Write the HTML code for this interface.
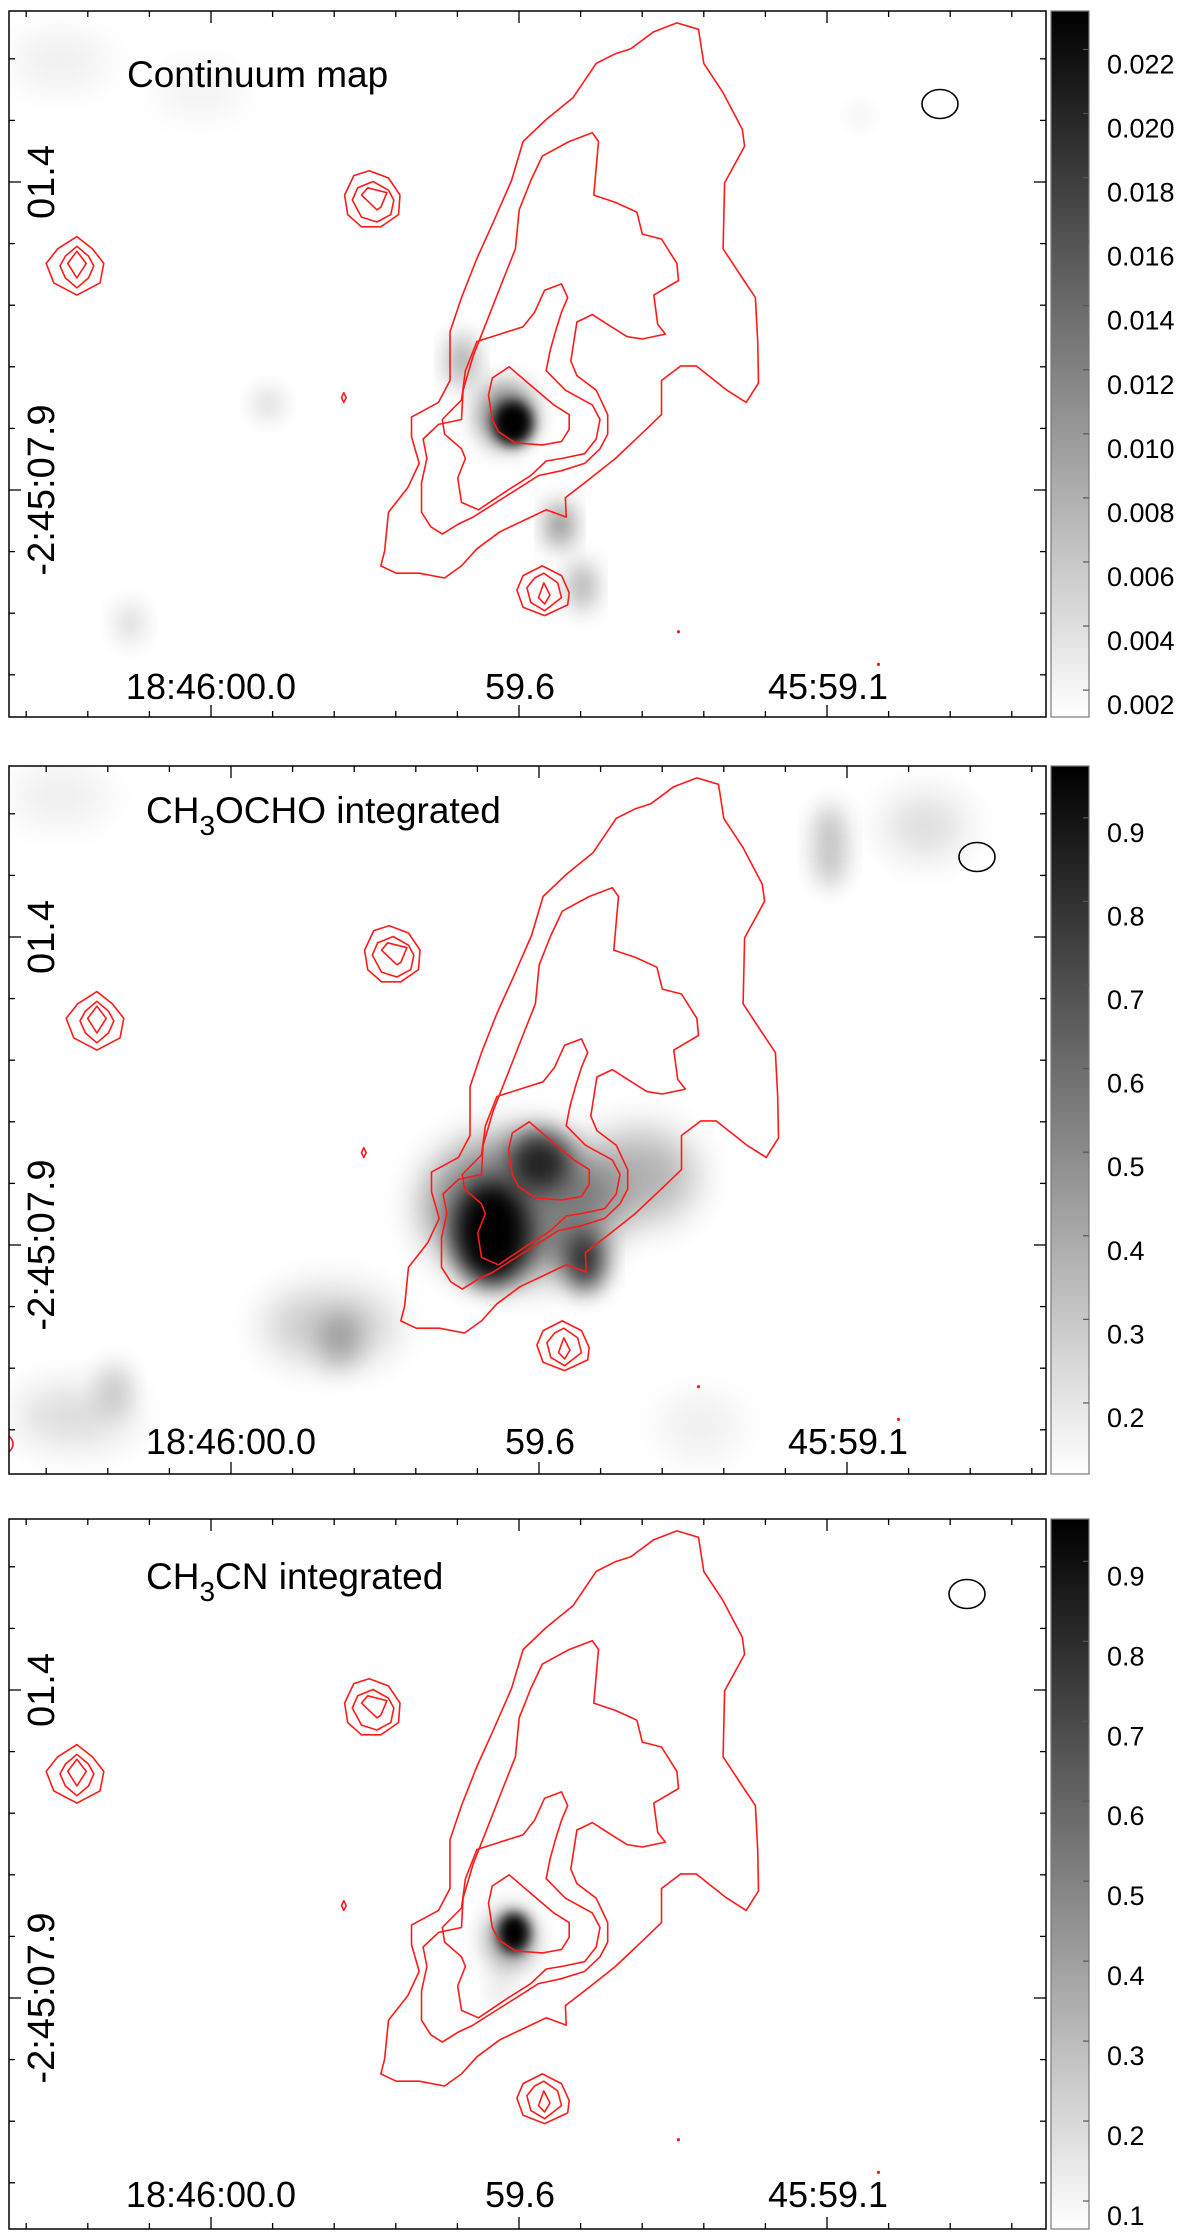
<!DOCTYPE html>
<html><head><meta charset="utf-8">
<style>
html,body{margin:0;padding:0;background:#fff;}
svg{display:block;font-family:"Liberation Sans",sans-serif;}
</style></head>
<body>
<svg id="fig" width="1200" height="2235" viewBox="0 0 1200 2235" xmlns="http://www.w3.org/2000/svg">
<defs>
<filter id="b6" x="-50%" y="-50%" width="200%" height="200%"><feGaussianBlur stdDeviation="6"/></filter>
<filter id="b12" x="-50%" y="-50%" width="200%" height="200%"><feGaussianBlur stdDeviation="12"/></filter>
<filter id="b20" x="-50%" y="-50%" width="200%" height="200%"><feGaussianBlur stdDeviation="20"/></filter>
<linearGradient id="cbg" x1="0" y1="1" x2="0" y2="0">
<stop offset="0" stop-color="#fff"/><stop offset="1" stop-color="#000"/>
</linearGradient>
<clipPath id="c1"><rect x="9" y="11" width="1037" height="706"/></clipPath>
<clipPath id="c2"><rect x="9" y="766" width="1037" height="708"/></clipPath>
<clipPath id="c3"><rect x="9" y="1519" width="1037" height="710"/></clipPath>
</defs>
</svg>
<script>
// ---- data ----
const panelTops = [11, 766, 1519];
const panelBottoms = [717, 1474, 2229];
const panelTitles = [["Continuum map"], ["CH","3","OCHO integrated"], ["CH","3","CN integrated"]];
const xTickLabels = ["18:46:00.0", "59.6", "45:59.1"];
const yTickLabels = ["01.4", "-2:45:07.9"];
const cb1Values = [0.022,0.020,0.018,0.016,0.014,0.012,0.010,0.008,0.006,0.004,0.002];
const cb1Labels = ["0.022","0.020","0.018","0.016","0.014","0.012","0.010","0.008","0.006","0.004","0.002"];
const cb1Range = [0.00116, 0.0232];
const cb2Values = [0.9,0.8,0.7,0.6,0.5,0.4,0.3,0.2];
const cb2Labels = ["0.9","0.8","0.7","0.6","0.5","0.4","0.3","0.2"];
const cb2Range = [0.115, 0.962];
const cb3Values = [0.9,0.8,0.7,0.6,0.5,0.4,0.3,0.2,0.1];
const cb3Labels = ["0.9","0.8","0.7","0.6","0.5","0.4","0.3","0.2","0.1"];
const cb3Range = [0.065, 0.953];

const NS = "http://www.w3.org/2000/svg";
const svg = document.getElementById("fig");
function mk(tag, attrs, parent){
  const e = document.createElementNS(NS, tag);
  for (const k in attrs) e.setAttribute(k, attrs[k]);
  (parent||svg).appendChild(e);
  return e;
}
const X0 = 9, X1 = 1046;

const C = [
 [[880,47],[908,60],[915,130],[940,190],[965,265],[968,300],[942,375],[940,510],[965,570],[982,610],[985,700],[986,785],[970,825],[945,800],[905,750],[885,750],[860,780],[860,850],[840,880],[800,940],[760,990],[735,1020],[736,1060],[710,1045],[690,1060],[650,1090],[620,1125],[600,1160],[578,1185],[545,1175],[515,1175],[495,1160],[500,1130],[505,1050],[530,1000],[545,950],[535,895],[535,855],[570,825],[585,780],[585,680],[600,610],[620,530],[640,460],[665,370],[680,290],[710,245],[745,200],[775,130],[800,110],[820,100],[850,65]],
 [[770,272],[778,290],[772,400],[800,415],[828,435],[835,480],[860,490],[880,540],[882,575],[850,605],[855,665],[865,685],[835,695],[815,690],[790,665],[770,645],[750,660],[742,740],[750,770],[775,800],[790,850],[790,890],[780,920],[760,950],[730,965],[700,975],[680,995],[650,1025],[615,1060],[595,1075],[575,1095],[560,1080],[548,1050],[548,990],[555,940],[550,900],[570,870],[600,860],[602,800],[615,730],[635,650],[655,570],[670,510],[675,430],[690,370],[705,320],[740,290]],
 [[730,582],[738,610],[730,640],[722,680],[715,720],[710,760],[735,800],[770,830],[780,860],[775,900],[760,930],[730,940],[710,945],[690,975],[660,1005],[622,1045],[600,1030],[595,980],[605,940],[600,920],[578,890],[575,860],[600,820],[605,760],[620,700],[650,685],[680,670],[695,640],[708,595]],
 [[662,752],[690,790],[720,830],[740,850],[740,880],[730,905],[705,912],[670,908],[648,885],[640,860],[635,810],[640,775]],
 [[100,485],[120,510],[135,540],[130,580],[100,605],[70,580],[60,540],[75,510]],
 [[100,505],[115,525],[122,545],[115,570],[100,590],[85,570],[78,545],[85,525]],
 [[100,515],[112,540],[100,570],[88,540]],
 [[480,350],[505,365],[520,400],[518,440],[495,465],[470,465],[452,440],[448,400],[460,360]],
 [[485,372],[505,390],[512,410],[508,440],[490,455],[470,445],[458,410],[465,385]],
 [[478,385],[503,395],[495,425],[490,430],[470,400]],
 [[705,1160],[730,1180],[740,1215],[738,1240],[708,1262],[680,1245],[672,1210],[680,1180]],
 [[707,1175],[725,1195],[730,1225],[708,1252],[690,1235],[685,1205],[695,1185]],
 [[707,1195],[715,1220],[708,1238],[700,1225]],
 [[447,805],[450,815],[447,825],[444,815]]
];
const dots = [[882,1295],[1142,1362]];

const blobs = [
 [[513,412,20,22,1,"b6"],[506,404,28,32,0.5,"b12"],[462,350,14,26,0.35,"b12"],[560,514,13,22,0.5,"b12"],[582,575,13,24,0.35,"b12"],[268,393,14,14,0.18,"b12"],[130,612,14,20,0.15,"b12"],[60,50,50,25,0.07,"b20"],[200,80,45,22,0.06,"b20"],[860,105,12,10,0.08,"b12"]],
 [[492,467,38,52,1,"b12"],[540,395,30,30,0.75,"b12"],[585,495,20,30,0.8,"b12"],[520,440,95,70,0.5,"b20"],[640,410,55,45,0.3,"b20"],[330,560,65,35,0.22,"b20"],[340,575,20,28,0.22,"b12"],[830,80,16,42,0.25,"b12"],[925,60,40,30,0.15,"b20"],[75,650,60,28,0.15,"b20"],[115,622,16,26,0.18,"b12"],[700,660,40,30,0.07,"b20"],[60,30,50,25,0.08,"b20"]],
 [[514,414,16,20,1,"b6"],[510,420,24,30,0.4,"b12"],[500,470,10,14,0.15,"b12"]]
];
const beams = [[940,93],[977,91],[967,75]];
const titleY = [76, 57, 70];
const contourDx = [0, 20, 0];

panelTops.forEach((top, p) => {
  const bot = panelBottoms[p];
  const dx = contourDx[p];
  const dy = top - 11;
  const g = mk("g", {"clip-path":"url(#c"+(p+1)+")"});
  
  
  const img = mk("g", {}, g);
  
  
  blobs[p].forEach(b => {
    const e = mk("ellipse", {cx:b[0], cy:b[1]+top, rx:b[2], ry:b[3], fill:"#000", opacity:b[4], filter:"url(#"+b[5]+")"}, img);
    
    
  });
  const cg = mk("g", {fill:"none", stroke:"#ff1a1a", "stroke-width":1.6, "stroke-linejoin":"round"}, g);
  
  
  C.forEach(c => {
    const pts = c.map(q => ((q[0]/1.3)+dx).toFixed(1)+","+((q[1]/2.05)+dy).toFixed(1)).join(" ");
    const e = mk("polygon", {points: pts}, cg);
    
    
  });
  dots.forEach(d => {
    const e = mk("circle", {cx:(d[0]/1.3)+dx, cy:(d[1]/2.05)+dy, r:1.6, fill:"#ff1a1a", stroke:"none"}, g);
    
    
  });
  if (p === 1) {
    const e = mk("path", {d:"M9,1436 q8,8 0,16", fill:"none", stroke:"#ff1a1a", "stroke-width":1.6}, g);
    
    
  }
  const bm = mk("ellipse", {cx:beams[p][0], cy:beams[p][1]+top, rx:18, ry:14.5, fill:"none", stroke:"#000", "stroke-width":1.6});
  
  
  const fr = mk("rect", {x:X0, y:top, width:X1-X0, height:bot-top, fill:"none", stroke:"#000", "stroke-width":1.5});
  
  
  const xMaj = [211+dx, 520+dx, 828+dx];
  const tk = mk("g", {stroke:"#000", "stroke-width":1.3});
  
  
  for (let k=-4; k<=14; k++) {
    const x = 211+dx + k*61.6;
    if (x <= X0+2 || x >= X1-2) continue;
    const L = (k%5===0) ? 12 : 6;
    mk("line", {x1:x, y1:top, x2:x, y2:top+L}, tk);
    mk("line", {x1:x, y1:bot, x2:x, y2:bot-L}, tk);
  }
  for (let k=-3; k<=12; k++) {
    const y = top + 171 + k*61.6;
    if (y <= top+2 || y >= bot-2) continue;
    const L = (k%5===0) ? 12 : 6;
    mk("line", {x1:X0, y1:y, x2:X0+L, y2:y}, tk);
    mk("line", {x1:X1, y1:y, x2:X1-L, y2:y}, tk);
  }
  xTickLabels.forEach((s, i) => {
    const t = mk("text", {x:xMaj[i], y:top+688, "font-size":36, "text-anchor":"middle", fill:"#000"});
    t.textContent = s;
    
    
  });
  const yMaj = [top+171, top+479];
  yTickLabels.forEach((s, i) => {
    const t = mk("text", {x:0, y:0, "font-size":38, "text-anchor":"middle", fill:"#000", transform:"translate(54,"+yMaj[i]+") rotate(-90)"});
    t.textContent = s;
    
    
  });
  const tt = panelTitles[p];
  const t = mk("text", {x:127+(p>0?19:0), y:top+titleY[p], "font-size":37, fill:"#000"});
  
  
  if (tt.length === 1) t.textContent = tt[0];
  else {
    const a = mk("tspan", {}, t); a.textContent = tt[0];
    const b = mk("tspan", {dy:12, "font-size":28}, t); b.textContent = tt[1];
    const c = mk("tspan", {dy:-12}, t); c.textContent = tt[2];
  }
});

const cbs = [[cb1Values, cb1Labels, cb1Range],[cb2Values, cb2Labels, cb2Range],[cb3Values, cb3Labels, cb3Range]];
cbs.forEach((cb, p) => {
  const top = panelTops[p], bot = panelBottoms[p];
  const [vals, labs, rng] = cb;
  const yOf = v => bot - (v - rng[0])/(rng[1]-rng[0])*(bot-top);
  const g = mk("g", {});
  
  
  const r = mk("rect", {x:1051, y:top, width:38, height:bot-top, fill:"url(#cbg)", stroke:"#777", "stroke-width":1.2}, g);
  
  
  vals.forEach((v, i) => {
    const y = yOf(v);
    const l = mk("line", {x1:1089, y1:y, x2:1083, y2:y, stroke:"#555", "stroke-width":1.2}, g);
    
    
    const t = mk("text", {x:1107, y:y+24, "font-size":27, fill:"#000"}, g);
    t.textContent = labs[i];
    
    
  });
});
</script>
</body></html>
